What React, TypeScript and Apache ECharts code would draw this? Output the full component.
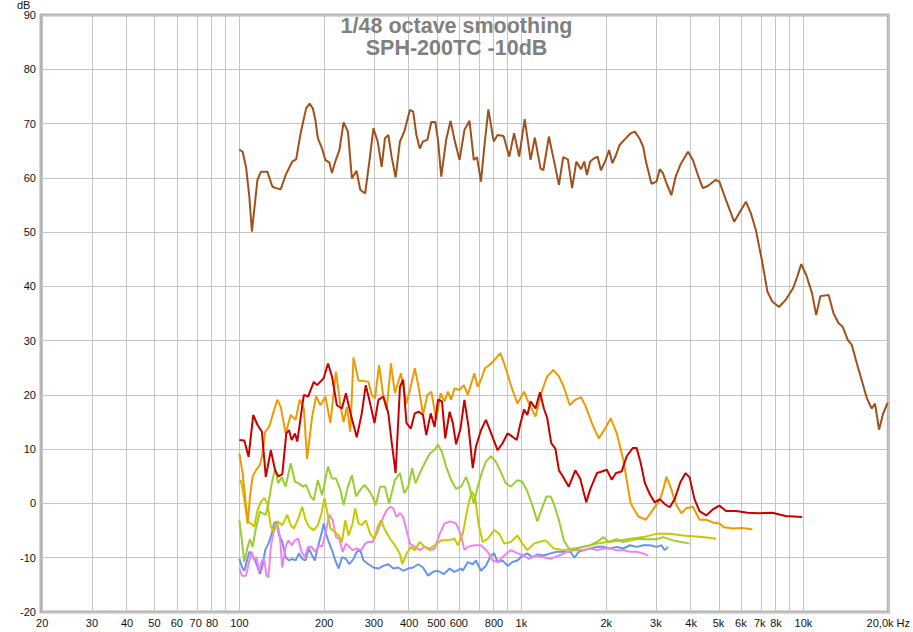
import React, { useEffect, useRef } from "react";
import * as echarts from "echarts";

// ---- axis definitions ----
const X_MIN_HZ = 19.8;
const X_MAX_HZ = 20000;
const GRID_FREQS = [20, 30, 40, 50, 60, 70, 80, 90, 100, 200, 300, 400, 500, 600, 700, 800, 900, 1000, 2000, 3000, 4000, 5000, 6000, 7000, 8000, 9000, 10000, 20000];
const LABEL_FREQS = [20, 30, 40, 50, 60, 70, 80, 100, 200, 300, 400, 500, 600, 800, 1000, 2000, 3000, 4000, 5000, 6000, 7000, 8000, 10000, 20000];
const LABEL_TEXT: Record<number, string> = {
  20: "20", 30: "30", 40: "40", 50: "50", 60: "60", 70: "70", 80: "80", 100: "100", 200: "200", 300: "300", 400: "400",
  500: "500", 600: "600", 800: "800", 1000: "1k", 2000: "2k", 3000: "3k", 4000: "4k", 5000: "5k", 6000: "6k", 7000: "7k",
  8000: "8k", 10000: "10k", 20000: "20,0k Hz",
};
const Y_MIN = -20;
const Y_MAX = 90;

// ---- series data: [frequency Hz, level dB] ----
const brown: [number, number][] = [
  [100, 65.2], [102.7, 64.8], [105.6, 62.0], [108.5, 56.5], [110.8, 50.1], [112.9, 54.1], [115.9, 59.6], [119.2, 61.1],
  [125.8, 61.1], [130.9, 58.4], [134.5, 58.1], [140.2, 57.9], [145.9, 60.5], [154, 63.0], [159, 63.4], [164.9, 68.2],
  [172.5, 72.8], [177.4, 73.7], [182.2, 72.8], [186.1, 70.6], [189.8, 67.3], [196.5, 65.4], [201.8, 63.3], [208.6, 62.8],
  [213, 60.9], [218.8, 63.0], [226.3, 65.1], [234.2, 70.2], [242.7, 68.5], [250.6, 59.9], [260.3, 61.3], [268.3, 57.8],
  [279.2, 57.1], [288.6, 62.7], [298.8, 69.1], [309.4, 66.7], [319.6, 62.0], [328.3, 67.3], [337.5, 67.9], [346.6, 63.9],
  [358.1, 60.1], [371.1, 66.7], [384.3, 68.5], [402.6, 72.5], [413.3, 72.2], [424.4, 67.9], [436.4, 65.4], [448, 66.7],
  [464.2, 67.0], [479.4, 70.3], [495.3, 70.3], [506.2, 67.0], [519.9, 60.2], [541.1, 67.0], [561.1, 70.5], [579.2, 67.0],
  [603.7, 63.3], [628.1, 68.8], [654.7, 70.5], [678, 63.3], [696, 63.8], [719.1, 59.3], [738.7, 65.7], [763.9, 72.6],
  [797.4, 66.7], [823.6, 67.9], [864.8, 67.7], [905.7, 63.9], [942.3, 68.2], [982.2, 63.9], [1027.7, 70.8], [1078, 63.3],
  [1116, 67.4], [1170, 61.7], [1196, 61.4], [1252, 67.6], [1303, 63.3], [1359, 58.7], [1407, 63.8], [1462, 63.4],
  [1513, 58.1], [1566, 63.0], [1627, 61.6], [1671, 63.0], [1708, 60.5], [1754, 63.0], [1812, 63.6], [1864, 63.9],
  [1914, 61.4], [1981, 63.0], [2047, 65.1], [2103, 62.7], [2166, 64.2], [2227, 66.0], [2299, 66.8], [2377, 67.6],
  [2441, 68.2], [2526, 68.5], [2619, 67.3], [2704, 65.7], [2764, 63.0], [2893, 58.9], [3014, 59.3], [3095, 61.6],
  [3180, 60.8], [3269, 59.0], [3403, 56.8], [3524, 60.2], [3662, 62.4], [3898, 64.8], [4055, 63.3], [4227, 60.5],
  [4398, 58.1], [4584, 58.5], [4874, 59.6], [5035, 59.3], [5317, 55.9], [5684, 51.9], [5923, 53.5], [6254, 55.6],
  [6510, 53.5], [6782, 50.4], [7121, 44.9], [7458, 39.0], [7760, 37.2], [8192, 36.2], [8651, 37.5], [9179, 39.6],
  [9513, 41.8], [9823, 44.1], [10236, 42.1], [10735, 38.7], [11100, 34.7], [11486, 38.2], [12289, 38.4], [12792, 35.0],
  [13328, 33.2], [13769, 32.6], [14383, 30.1], [14847, 29.2], [15476, 25.8], [16101, 22.7], [16784, 19.4], [17462, 17.5],
  [17950, 18.4], [18542, 13.6], [19188, 16.6], [19895, 18.6],
];

const red: [number, number][] = [
  [100, 11.7], [104.1, 11.6], [107.8, 8.6], [112, 16.3], [115.9, 14.5], [120.2, 13.2], [124.1, 4.9], [129.3, 9.8],
  [133.9, 6.1], [137.4, 5.0], [142, 5.4], [146.7, 12.9], [150, 13.5], [153.3, 11.7], [157.5, 12.9], [160.4, 11.4],
  [163.6, 14.5], [169.3, 20.0], [175.3, 19.7], [183.6, 22.4], [188.6, 21.8], [199.1, 23.1], [206.3, 25.8], [213, 23.4],
  [221.7, 18.1], [231.1, 17.5], [238.7, 20.3], [249.4, 16.0], [260.8, 12.2], [271.7, 16.6], [280.7, 21.8], [291, 18.4],
  [301.4, 14.8], [311.2, 19.1], [324, 19.7], [337.5, 16.6], [346.6, 11.4], [358.1, 5.6], [371.1, 21.5], [381, 22.8],
  [391.3, 14.8], [405.7, 13.8], [418.8, 16.6], [433, 16.9], [448, 16.3], [460.1, 12.6], [477, 16.6], [492.5, 14.1],
  [506.2, 19.1], [522.9, 18.8], [537.1, 12.0], [556.7, 16.9], [571.5, 14.8], [586.9, 10.9], [608.5, 13.8], [628.1, 19.1],
  [649.6, 14.1], [672.2, 6.5], [690.3, 10.5], [719.1, 13.5], [748.5, 15.4], [770, 13.8], [797.4, 11.7], [823.6, 9.8],
  [857.4, 11.1], [893.2, 12.9], [929.8, 12.3], [962.9, 11.7], [989.9, 14.5], [1021.9, 17.3], [1050, 16.3], [1078, 18.8],
  [1122, 17.5], [1164, 20.5], [1202, 17.5], [1235, 15.7], [1276, 11.1], [1320, 10.1], [1359, 6.1], [1395, 5.2],
  [1473, 3.1], [1553, 6.1], [1618, 4.5], [1698, 0.2], [1754, 2.6], [1853, 5.6], [1929, 5.9], [2009, 6.2],
  [2091, 4.4], [2166, 5.6], [2268, 5.9], [2363, 8.7], [2481, 10.2], [2563, 10.2], [2648, 7.5], [2740, 3.8],
  [2854, 1.7], [2971, 0.2], [3095, 0.8], [3222, -0.1], [3357, -0.7], [3495, 0.8], [3662, 3.9], [3822, 5.6],
  [3948, 4.8], [4109, 0.8], [4282, -1.4], [4521, -2.2], [4770, -1.1], [5035, -0.4], [5317, -1.4], [5767, -1.4],
  [6342, -1.7], [6965, -1.8], [7760, -1.7], [8651, -2.3], [9898, -2.5],
];

const orange: [number, number][] = [
  [100, 9.2], [102.7, 5.6], [105.6, -0.6], [107, -3.7], [109.1, 1.3], [111.4, 4.9], [114.4, 6.1], [118.3, 7.1],
  [120.8, 9.2], [123.5, 13.2], [127.5, 14.1], [131.7, 16.6], [136.3, 19.1], [140.2, 17.8], [145.9, 12.9], [152.1, 16.3],
  [158.3, 15.4], [163.6, 19.1], [169.3, 17.5], [173.8, 8.2], [181.2, 16.0], [187.2, 19.7], [194, 18.1], [201.8, 19.7],
  [210.3, 14.8], [220.1, 24.3], [228.2, 18.1], [234.2, 15.0], [240.5, 17.8], [247.4, 13.2], [254, 26.9], [264.6, 22.6],
  [273.3, 22.6], [287, 22.4], [294.7, 20.0], [302.8, 19.4], [313, 25.5], [324, 19.7], [332.7, 17.3], [344.9, 25.8],
  [356.1, 20.3], [374, 24.0], [391.3, 18.4], [402.6, 20.9], [418.8, 24.9], [433, 21.2], [448, 16.3], [464.2, 20.0],
  [479.4, 20.6], [499, 15.4], [517.3, 20.3], [534, 18.8], [549, 20.6], [563.8, 19.1], [579.2, 21.2], [603.7, 20.9],
  [625.2, 21.8], [645.7, 20.0], [681.2, 24.0], [700.2, 21.5], [719.1, 22.8], [742.9, 24.9], [770, 25.5], [801.2, 26.4],
  [841.7, 27.7], [868.9, 25.8], [898.6, 23.4], [929.8, 20.9], [968.6, 18.4], [1021.9, 20.6], [1064.7, 18.4], [1122, 16.0],
  [1185.7, 20.9], [1235, 23.4], [1296.8, 24.6], [1359, 23.4], [1413.7, 21.5], [1485, 18.1], [1553, 19.1], [1627, 19.6],
  [1683.7, 18.1], [1778, 14.8], [1879, 12.0], [1981, 13.8], [2075, 15.7], [2179, 12.9], [2299, 8.0], [2441, 0.0],
  [2599, -2.4], [2764, -3.0], [2932, -1.1], [3095, 0.6], [3180, 2.5], [3269, 4.9], [3377, 3.1], [3524, 0.0],
  [3690, -1.8], [3844, -0.9], [4055, -0.6], [4169, -1.8], [4282, -3.0], [4521, -3.0], [4770, -3.5], [5035, -3.7],
  [5241, -4.4], [5609, -4.6], [6084, -4.5], [6598, -4.8],
];

const green: [number, number][] = [
  [100, -3.1], [102.2, -7.1], [104.1, -10.8], [107, -8.0], [109.1, -6.6], [111.4, -8.0], [114.4, -4.6], [118.3, -1.5],
  [120.8, -1.8], [124.1, -2.1], [126.8, 0.0], [130.3, 3.7], [133.9, 6.5], [137.4, 3.7], [141.3, 4.9], [145.9, 3.1],
  [152.1, 7.4], [157.5, 4.0], [162.6, 3.7], [168, 3.1], [172.5, 3.4], [178.9, 1.3], [183.6, 0.6], [189.8, 4.3],
  [196.5, 1.5], [206.3, 6.8], [213, 4.6], [220.1, 4.6], [228.2, 2.5], [234.2, -0.3], [242.7, 3.1], [250.6, 5.2],
  [259.4, 1.3], [268.3, 2.5], [277.8, 3.4], [287, 2.5], [296.5, 1.3], [304.5, -0.3], [315.6, 3.1], [328.3, 3.1],
  [339.5, 0.0], [356.1, 4.3], [371.1, 5.6], [384.3, 1.9], [397, 3.1], [410.1, 6.5], [421.2, 3.7], [436.4, 5.6],
  [454, 7.4], [473.3, 9.2], [490.1, 9.8], [506.2, 10.8], [522.9, 9.5], [541.1, 6.8], [563.8, 4.3], [586.9, 2.7],
  [611.5, 3.1], [636.5, 4.9], [654.7, 3.1], [678, 0.0], [700.2, 3.1], [723.3, 5.6], [748.5, 7.7], [779.9, 8.7],
  [811.8, 7.7], [845.8, 5.8], [880.4, 3.7], [917.3, 3.1], [968.6, 4.3], [1008, 4.0], [1050, 2.2], [1093, -0.3],
  [1139, -3.3], [1177, -1.2], [1228, 1.3], [1268, 1.3], [1303, 0.0], [1359, -3.1], [1414, -6.8], [1473, -8.3],
  [1553, -8.6], [1640, -8.0], [1754, -7.7], [1853, -7.1], [1955, -6.2], [2037, -7.1], [2179, -6.6], [2299, -7.1],
  [2427, -6.8], [2599, -6.5], [2779, -6.6], [3014, -6.6], [3180, -6.2], [3449, -6.8], [3690, -7.1], [3948, -7.4],
];

const yellow: [number, number][] = [
  [100, 3.7], [101.4, 4.3], [102.7, 2.5], [105, -0.6], [107, -3.3], [110, -3.7], [112.9, -4.3], [115.9, -1.3],
  [119.2, 0.3], [122.4, 1.0], [125.8, 0.0], [129.3, -4.3], [132.7, -5.2], [136.3, -3.3], [142, -4.0], [147.8, -2.1],
  [152.1, -4.0], [156.2, -4.6], [162.6, -2.5], [167, -0.6], [171.5, -2.9], [176.4, -4.3], [183.6, -4.9], [189.8, -4.0],
  [195.5, -1.8], [200.4, 1.0], [204.5, -1.3], [210.3, -4.6], [217.8, -5.2], [225, -5.9], [231.1, -7.1], [237.4, -3.1],
  [244, -5.9], [252, -3.7], [257.4, -0.9], [264.6, -3.7], [271.7, -4.0], [280.7, -3.1], [291, -5.6], [301.4, -6.5],
  [309.4, -4.3], [318, -3.1], [328.3, -4.9], [342.3, -6.5], [356.1, -7.7], [371.1, -9.3], [378.1, -11.2], [391.3, -9.3],
  [405.7, -8.0], [418.8, -8.6], [436.4, -7.1], [454, -8.0], [473.3, -8.3], [492.5, -7.7], [519.9, -6.8], [549, -6.8],
  [579.2, -6.5], [595.4, -7.7], [619.8, -5.6], [645.7, -0.6], [667, 2.2], [685.1, 1.3], [704.4, -3.7], [728.9, -7.1],
  [759.4, -6.5], [801.2, -4.9], [835.1, -5.6], [868.9, -7.4], [917.3, -7.1], [968.6, -5.9], [1008, -7.4], [1050, -8.6],
  [1107.8, -7.4], [1155, -7.1], [1217.6, -6.8], [1252, -7.4], [1303, -8.3], [1414, -8.6], [1533, -8.3], [1662, -8.0],
  [1853, -7.4], [2009, -7.1], [2179, -6.9], [2427, -6.5], [2704, -6.2], [3014, -5.6], [3357, -5.6], [3740, -5.9],
  [4169, -6.1], [4643, -6.3], [4903, -6.5],
];

const pink: [number, number][] = [
  [100, -12.0], [102.2, -13.3], [105.6, -13.3], [108.5, -10.5], [110.8, -8.9], [112.9, -10.5], [115.1, -9.9], [117.6, -12.6],
  [120.2, -10.5], [122.4, -10.2], [124.8, -13.3], [126.8, -13.6], [129.3, -8.0], [132.7, -4.9], [136.3, -3.7], [139.1, -5.9],
  [142, -11.8], [145.9, -8.0], [149.1, -6.8], [153.3, -7.7], [157.5, -6.8], [161.7, -6.5], [166.2, -8.9], [170.7, -9.9],
  [175.3, -8.0], [180.3, -8.0], [186.1, -8.9], [191.3, -7.7], [196.5, -8.0], [203, -4.9], [208.6, -2.1], [214.3, -3.1],
  [220.1, -6.2], [226.3, -6.5], [232.4, -8.9], [238.7, -7.4], [245.5, -8.0], [252, -8.6], [260.8, -8.3], [270.4, -8.6],
  [279.2, -7.4], [287, -7.1], [296.5, -7.1], [306.8, -5.6], [315.6, -4.0], [324, -2.5], [332.7, -1.3], [342.3, -0.6],
  [351.3, -0.9], [360.8, -2.5], [371.1, -1.8], [381, -2.5], [391.3, -4.9], [402.6, -7.4], [418.8, -8.0], [436.4, -8.6],
  [454, -8.0], [473.3, -8.6], [492.5, -8.3], [513.3, -5.6], [534, -3.7], [561.1, -3.3], [586.9, -3.7], [611.5, -5.9],
  [628.1, -8.6], [645.7, -8.0], [681.2, -7.7], [719.1, -7.7], [759.4, -8.9], [790.5, -10.5], [823.6, -10.8], [868.9, -9.6],
  [917.3, -8.6], [968.6, -9.2], [1021.9, -9.6], [1064.7, -10.2], [1122, -9.6], [1202, -9.9], [1268, -10.2], [1359, -9.6],
  [1453, -8.9], [1553, -8.6], [1662, -8.6], [1754, -8.3], [1853, -8.6], [1955, -8.3], [2063, -8.3], [2179, -8.6],
  [2299, -8.6], [2427, -8.9], [2563, -8.9], [2704, -9.2], [2818, -9.6],
];

const blue: [number, number][] = [
  [100, -10.2], [102.2, -11.8], [104.1, -12.4], [106.1, -10.8], [108.5, -8.9], [111.4, -9.6], [114.4, -10.8], [118.3, -13.0],
  [120.8, -11.5], [123.5, -8.6], [126.8, -7.4], [130.3, -5.6], [132.7, -3.7], [135.3, -3.3], [138.3, -5.9], [142, -7.1],
  [145.9, -9.9], [150, -10.5], [154, -10.2], [158.3, -10.5], [162.6, -9.2], [167, -10.2], [171.5, -10.5], [176.4, -8.3],
  [181.2, -9.6], [185.2, -10.5], [189.8, -8.0], [195.5, -5.6], [199.1, -3.7], [203, -5.6], [207.4, -7.1], [213, -8.6],
  [218.8, -10.5], [225, -12.0], [231.1, -9.9], [238.7, -10.2], [245.5, -11.2], [254, -10.2], [260.8, -8.9], [268.3, -8.6],
  [275.5, -10.5], [287, -11.2], [298.8, -11.8], [311.2, -12.0], [324, -11.5], [337.5, -11.2], [351.3, -12.0], [366, -11.8],
  [381, -12.4], [397, -12.0], [413.3, -11.8], [430.4, -11.2], [448, -11.8], [466.8, -13.3], [486, -12.6], [506.2, -12.4],
  [531.4, -13.0], [556.7, -12.0], [579.2, -12.6], [611.5, -12.0], [619.8, -12.4], [645.7, -10.8], [672.2, -11.2], [690.3, -10.5],
  [719.1, -12.4], [748.5, -11.5], [779.9, -9.6], [801.2, -9.2], [823.6, -10.8], [857.4, -10.5], [893.2, -11.5], [929.8, -10.8],
  [968.6, -10.5], [1008, -9.6], [1050, -9.2], [1093, -9.9], [1139, -9.4], [1202, -9.6], [1268, -9.2], [1340, -8.9],
  [1414, -8.9], [1492, -8.9], [1542, -10.0], [1597, -8.9], [1662, -8.6], [1754, -8.3], [1853, -8.0], [1955, -8.0],
  [2063, -8.3], [2179, -8.0], [2299, -8.3], [2427, -7.7], [2563, -8.0], [2704, -7.7], [2854, -7.7], [3014, -8.0],
  [3138, -7.7], [3222, -8.6], [3315, -8.0],
];

const SERIES = [
  { name: "blue", color: "#6495ed", data: blue },
  { name: "pink", color: "#ee82ee", data: pink },
  { name: "yellow", color: "#c8c800", data: yellow },
  { name: "green", color: "#9acd32", data: green },
  { name: "orange", color: "#ee9a00", data: orange },
  { name: "red", color: "#c80000", data: red },
  { name: "brown", color: "#a0501a", data: brown },
];

const FONT = "'Liberation Sans', Arial, sans-serif";

export default function App() {
  const ref = useRef<HTMLDivElement>(null);
  useEffect(() => {
    if (!ref.current) return;
    const chart = echarts.init(ref.current, null, { renderer: "svg" });
    const toLog = (f: number) => Math.log10(f);
    const gridSeries = {
      name: "grid",
      type: "line",
      data: [],
      silent: true,
      z: 1,
      markLine: {
        silent: true,
        symbol: "none",
        z: 1,
        animation: false,
        label: { show: false },
        emphasis: { disabled: true },
        lineStyle: { color: "#c4c4c4", width: 1, type: "solid" },
        data: GRID_FREQS.map((f) => ({ xAxis: toLog(f) })),
      },
    };
    chart.setOption({
      animation: false,
      backgroundColor: "#ffffff",
      textStyle: { fontFamily: FONT },
      title: {
        text: "1/48 octave smoothing\nSPH-200TC -10dB",
        left: "center",
        top: 10,
        textStyle: {
          fontFamily: "'Liberation Sans Narrow', 'Liberation Sans', Arial, sans-serif",
          fontWeight: "bold",
          fontSize: 21.5,
          lineHeight: 22,
          color: "#808080",
        },
      },
      graphic: [
        {
          type: "text",
          left: 17,
          top: -1,
          style: { text: "dB", fontSize: 11, lineHeight: 11, fontFamily: FONT, fill: "#111" },
        },
      ],
      grid: {
        left: 41,
        right: 20,
        top: 15,
        bottom: 20,
        show: true,
        borderColor: "#b4b4b4",
        borderWidth: 3,
        backgroundColor: "#ffffff",
      },
      xAxis: {
        type: "value",
        min: toLog(X_MIN_HZ),
        max: toLog(X_MAX_HZ),
        axisLine: { show: false },
        axisTick: { show: false },
        splitLine: { show: false },
        axisLabel: {
          customValues: LABEL_FREQS.map(toLog),
          formatter: (v: number) => LABEL_TEXT[Math.round(Math.pow(10, v))] ?? "",
          fontSize: 11,
          color: "#111",
          margin: 5,
          fontFamily: FONT,
        },
      },
      yAxis: {
        type: "value",
        min: Y_MIN,
        max: Y_MAX,
        interval: 10,
        axisLine: { show: false },
        axisTick: { show: false },
        splitLine: { show: true, lineStyle: { color: "#c4c4c4", width: 1 } },
        axisLabel: { fontSize: 11, color: "#111", margin: 5, fontFamily: FONT },
      },
      series: [
        gridSeries,
        ...SERIES.map((s) => ({
          name: s.name,
          type: "line",
          z: 3,
          data: s.data.map(([f, db]) => [toLog(f), db]),
          showSymbol: false,
          symbol: "none",
          lineStyle: { color: s.color, width: 2 },
          itemStyle: { color: s.color },
          silent: true,
        })),
      ],
    });
    return () => chart.dispose();
  }, []);
  return <div ref={ref} style={{ width: 913, height: 632, position: "absolute", left: 0, top: 0 }} />;
}
